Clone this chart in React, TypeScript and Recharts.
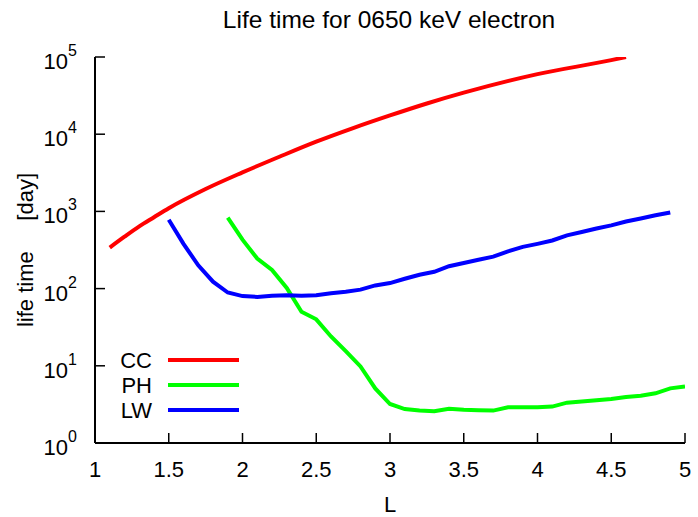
import { LineChart, Line, XAxis, YAxis, Legend } from "recharts";

// L-shell values and lifetimes [day]
const ccL = [1.1, 1.2, 1.3, 1.4, 1.5, 1.75, 2, 2.25, 2.5, 2.75, 3, 3.25, 3.5, 4, 4.5, 4.6];
const ccDays = [340, 470, 640, 840, 1100, 1950, 3200, 5100, 8000, 12000, 17500, 25000, 34500, 60000, 91000, 100000];

const phL = [1.9, 2.0, 2.1, 2.2, 2.3, 2.4, 2.5, 2.6, 2.7, 2.8, 2.9, 3.0, 3.1, 3.2, 3.3, 3.4, 3.5, 3.6, 3.7, 3.8, 3.9, 4.0, 4.1, 4.2, 4.3, 4.4, 4.5, 4.6, 4.7, 4.8, 4.9, 5.0];
const phDays = [830, 430, 245, 174, 102, 50, 40, 24, 15.5, 9.8, 5.1, 3.2, 2.75, 2.63, 2.58, 2.78, 2.7, 2.66, 2.63, 2.9, 2.9, 2.9, 2.96, 3.33, 3.44, 3.58, 3.72, 3.95, 4.1, 4.4, 5.1, 5.4];

const lwL = [1.5, 1.6, 1.7, 1.8, 1.9, 2.0, 2.1, 2.2, 2.3, 2.4, 2.5, 2.6, 2.7, 2.8, 2.9, 3.0, 3.1, 3.2, 3.3, 3.4, 3.5, 3.6, 3.7, 3.8, 3.9, 4.0, 4.1, 4.2, 4.3, 4.4, 4.5, 4.6, 4.7, 4.8, 4.9];
const lwDays = [780, 380, 200, 123, 89, 80, 78, 81, 82, 81, 82, 87, 91, 97, 110, 118, 134, 151, 165, 195, 215, 236, 259, 303, 347, 380, 420, 490, 540, 600, 660, 740, 810, 890, 970];

const xTicks = [1, 1.5, 2, 2.5, 3, 3.5, 4, 4.5, 5];
const yTicks = [1, 10, 100, 1000, 10000, 100000];

const series = [
  { name: "CC", color: "#ff0000", L: ccL, days: ccDays },
  { name: "PH", color: "#00ff00", L: phL, days: phDays },
  { name: "LW", color: "#0000ff", L: lwL, days: lwDays },
];

const FONT = "'Liberation Sans', Arial, sans-serif";

const BottomTick = ({ x, y, payload }: any) => (
  <g>
    <line x1={x} x2={x} y1={y} y2={y - 10} stroke="#000" strokeWidth={1.5} />
    <text x={x} y={y + 34} textAnchor="middle" fontSize={22} fontFamily={FONT} fill="#000">
      {payload.value}
    </text>
  </g>
);

const TopTick = ({ x, y }: any) => (
  <line x1={x} x2={x} y1={y} y2={y + 10} stroke="#000" strokeWidth={1.5} />
);

const LeftTick = ({ x, y, payload }: any) => {
  const exp = Math.round(Math.log10(payload.value));
  return (
    <g>
      <line x1={x} x2={x + 10} y1={y} y2={y} stroke="#000" strokeWidth={1.5} />
      <text x={x - 27} y={y + 12} textAnchor="end" fontSize={22} fontFamily={FONT} fill="#000">
        10
      </text>
      <text x={x - 27} y={y - 1} textAnchor="start" fontSize={16} fontFamily={FONT} fill="#000">
        {exp}
      </text>
    </g>
  );
};

const RightTick = ({ x, y }: any) => (
  <line x1={x} x2={x - 10} y1={y} y2={y} stroke="#000" strokeWidth={1.5} />
);

const LegendBox = () => (
  <svg width={160} height={80}>
    {series.map((s, i) => (
      <g key={s.name}>
        <text x={57} y={15 + i * 25 + 8} textAnchor="end" fontSize={22} fontFamily={FONT} fill="#000">
          {s.name}
        </text>
        <line x1={73} x2={144} y1={15 + i * 25} y2={15 + i * 25} stroke={s.color} strokeWidth={4} />
      </g>
    ))}
  </svg>
);

export default function App() {
  return (
    <div style={{ position: "absolute", left: 0, top: 0, width: 698, height: 517, background: "#fff" }}>
      <LineChart width={698} height={517} margin={{ top: 57, right: 13, bottom: 0, left: 0 }}>
        <XAxis
          xAxisId="b"
          dataKey="L"
          type="number"
          domain={[1, 5]}
          ticks={xTicks}
          height={74}
          tickSize={0}
          tickMargin={0}
          tickLine={false}
          tick={<BottomTick />}
          axisLine={{ stroke: "#000", strokeWidth: 2 }}
          allowDataOverflow
        />
        <XAxis
          xAxisId="t"
          orientation="top"
          dataKey="L"
          type="number"
          domain={[1, 5]}
          ticks={xTicks}
          height={0}
          tickSize={0}
          tickMargin={0}
          tickLine={false}
          tick={<TopTick />}
          axisLine={{ stroke: "#000", strokeWidth: 2 }}
          allowDataOverflow
        />
        <YAxis
          yAxisId="l"
          scale="log"
          domain={[1, 100000]}
          ticks={yTicks}
          width={95}
          tickSize={0}
          tickMargin={0}
          tickLine={false}
          tick={<LeftTick />}
          axisLine={{ stroke: "#000", strokeWidth: 2 }}
          allowDataOverflow
        />
        <YAxis
          yAxisId="r"
          orientation="right"
          scale="log"
          domain={[1, 100000]}
          ticks={yTicks}
          width={0}
          tickSize={0}
          tickMargin={0}
          tickLine={false}
          tick={<RightTick />}
          axisLine={{ stroke: "#000", strokeWidth: 2 }}
          allowDataOverflow
        />
        {series.map((s) => (
          <Line
            key={s.name}
            xAxisId="b"
            yAxisId="l"
            name={s.name}
            data={s.L.map((l, i) => ({ L: l, days: s.days[i] }))}
            dataKey="days"
            type={s.name === "CC" ? "monotone" : "linear"}
            stroke={s.color}
            strokeWidth={4}
            dot={false}
            isAnimationActive={false}
          />
        ))}
        <Legend
          layout="vertical"
          align="center"
          verticalAlign="middle"
          content={<LegendBox />}
          wrapperStyle={{ left: 95, top: 345, width: 160, height: 80 }}
        />
      </LineChart>
      <svg
        width={698}
        height={517}
        style={{ position: "absolute", left: 0, top: 0, pointerEvents: "none" }}
      >
        <text x={389} y={28} textAnchor="middle" fontSize={24.5} fontFamily={FONT} fill="#000">
          Life time for 0650 keV electron
        </text>
        <text x={390} y={512} textAnchor="middle" fontSize={22} fontFamily={FONT} fill="#000">
          L
        </text>
        <text
          x={0}
          y={0}
          transform="translate(33,250) rotate(-90)"
          textAnchor="middle"
          fontSize={22}
          fontFamily={FONT}
          fill="#000"
          xmlSpace="preserve"
          style={{ whiteSpace: "pre" }}
        >
          {"life time     [day]"}
        </text>
      </svg>
    </div>
  );
}
